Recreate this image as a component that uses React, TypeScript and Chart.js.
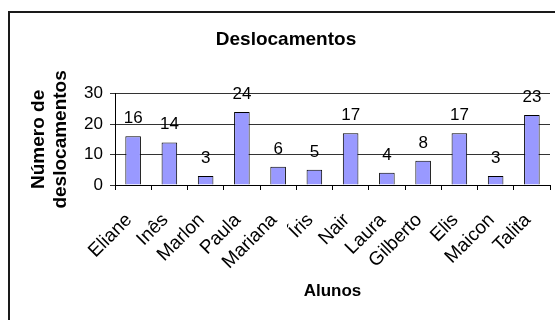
import React, { useEffect, useRef } from "react";
import { Chart, registerables } from "chart.js";

Chart.register(...registerables);

const categories = ["Eliane", "Inês", "Marlon", "Paula", "Mariana", "Íris", "Nair", "Laura", "Gilberto", "Elis", "Maicon", "Talita"];
const values = [16, 14, 3, 24, 6, 5, 17, 4, 8, 17, 3, 23];
const yTicks = [0, 10, 20, 30];
const chartTitle = "Deslocamentos";
const xTitle = "Alunos";
const yTitle = ["Número de", "deslocamentos"];

const FONT = "'Liberation Sans', Arial, sans-serif";

export default function App() {
  const ref = useRef<HTMLCanvasElement>(null);

  useEffect(() => {
    const canvas = ref.current;
    if (!canvas) return;

    const frame = {
      id: "frame",
      beforeDraw(chart: any) {
        const ctx = chart.ctx;
        ctx.save();
        ctx.fillStyle = "#ffffff";
        ctx.fillRect(0, 0, chart.width, chart.height);
        ctx.fillStyle = "#1a1a1a";
        ctx.fillRect(8, 11, chart.width, 2);
        ctx.fillRect(8, 11, 2, chart.height);
        ctx.restore();
      },
    };

    const valueLabels = {
      id: "valueLabels",
      afterDatasetsDraw(chart: any) {
        const ctx = chart.ctx;
        const meta = chart.getDatasetMeta(0);
        ctx.save();
        ctx.font = `17px ${FONT}`;
        ctx.fillStyle = "#000";
        ctx.textAlign = "center";
        ctx.textBaseline = "alphabetic";
        meta.data.forEach((bar: any, i: number) => {
          ctx.fillText(String(values[i]), bar.x, bar.y - 13);
        });
        ctx.restore();
      },
    };

    const chart = new Chart(canvas, {
      type: "bar",
      data: {
        labels: categories,
        datasets: [
          {
            data: values,
            backgroundColor: "#9999ff",
            borderColor: "#000000",
            borderWidth: 1,
            categoryPercentage: 1,
            barPercentage: 0.43,
          },
        ],
      },
      options: {
        responsive: false,
        animation: false,
        devicePixelRatio: 1,
        layout: { padding: { left: 22, right: 5, top: 0, bottom: 0 } },
        plugins: {
          legend: { display: false },
          tooltip: { enabled: false },
          title: {
            display: true,
            text: chartTitle,
            color: "#000",
            font: { family: FONT, size: 19, weight: "bold", lineHeight: 1.2 },
            padding: { top: 28, bottom: 43 },
          },
        },
        scales: {
          x: {
            grid: { display: true, drawOnChartArea: false, drawTicks: true, tickLength: 5, color: "#000", offset: true },
            border: { color: "#000", width: 1 },
            ticks: {
              color: "#000",
              font: { family: FONT, size: 19 },
              maxRotation: 45,
              minRotation: 45,
              padding: 19,
              labelOffset: -4,
              autoSkip: false,
            },
            title: {
              display: true,
              text: xTitle,
              color: "#000",
              font: { family: FONT, size: 17, weight: "bold", lineHeight: 1.2 },
              padding: { top: 0, bottom: 18 },
            },
            afterFit: (s: any) => {
              s.height = 135;
              s.paddingLeft = 0;
              s.paddingRight = 0;
            },
          },
          y: {
            min: 0,
            max: 30,
            afterBuildTicks: (s: any) => {
              s.ticks = yTicks.map((v) => ({ value: v }));
            },
            ticks: { color: "#000", font: { family: FONT, size: 17 }, padding: 7 },
            grid: { color: "#333", tickLength: 5 },
            border: { color: "#000", width: 1 },
            title: {
              display: true,
              text: yTitle,
              color: "#000",
              font: { family: FONT, size: 19, weight: "bold", lineHeight: 1.2 },
              padding: { top: 5, bottom: 0 },
            },
            afterFit: (s: any) => {
              s.width = 93;
            },
          },
        },
      },
      plugins: [frame, valueLabels],
    } as any);

    return () => chart.destroy();
  }, []);

  return (
    <canvas
      ref={ref}
      width={555}
      height={320}
      style={{ position: "fixed", left: 0, top: 0, width: 555, height: 320 }}
    />
  );
}
